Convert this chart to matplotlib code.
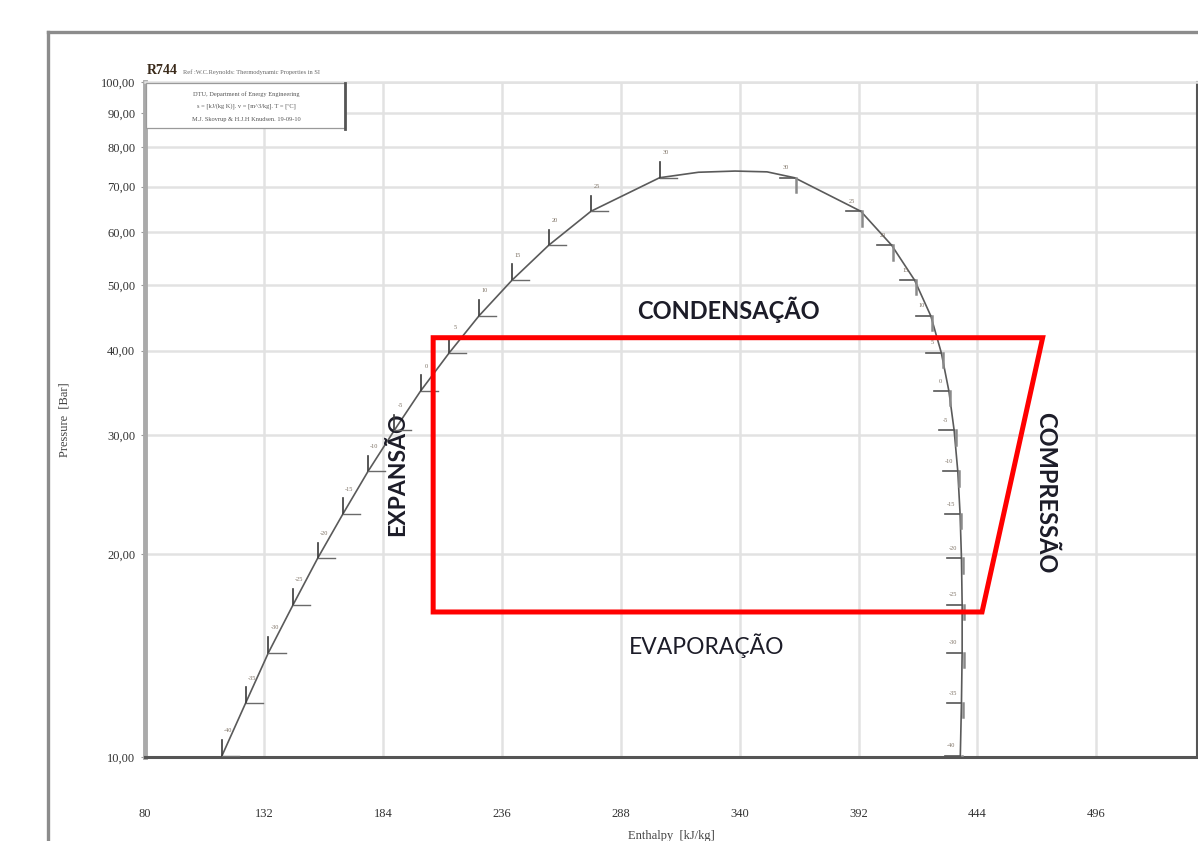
import matplotlib
matplotlib.use("Agg")
import matplotlib.pyplot as plt
from matplotlib.lines import Line2D
from matplotlib.patches import Rectangle

# ---- R744 (CO2) saturation data -------------------------------------------
sat_temp = [-40, -35, -30, -25, -20, -15, -10, -5, 0, 5, 10, 15, 20, 25, 30]
sat_pressure = [10.05, 12.02, 14.28, 16.82, 19.70, 22.90, 26.49, 30.47,
                34.85, 39.69, 45.02, 50.87, 57.29, 64.34, 72.14]
h_liquid = [113.7, 124.0, 134.0, 144.8, 155.5, 166.5, 177.5, 189.0,
            200.5, 213.0, 226.0, 240.5, 256.5, 275.0, 305.0]
h_vapor = [436.5, 437.0, 437.3, 437.3, 437.0, 436.4, 435.4, 433.8,
           431.5, 428.2, 423.6, 416.5, 406.5, 393.0, 364.0]

# crest of the dome around the critical point
crest_h = [322.0, 338.0, 352.0]
crest_p = [73.5, 73.8, 73.6]

# refrigeration cycle (enthalpy kJ/kg, pressure bar)
cycle_h = [206.0, 472.5, 446.0, 206.0]
cycle_p = [41.8, 41.8, 16.4, 16.4]

# axes ticks
x_ticks = [80, 132, 184, 236, 288, 340, 392, 444, 496]
y_ticks = [10, 20, 30, 40, 50, 60, 70, 80, 90, 100]
y_tick_labels = ["10,00", "20,00", "30,00", "40,00", "50,00",
                 "60,00", "70,00", "80,00", "90,00", "100,00"]

W, H = 1198, 841
fig = plt.figure(figsize=(W / 100, H / 100), dpi=100)
fig.patch.set_facecolor("white")

def fx(px):
    return px / W

def fy(py):
    return 1 - py / H

SERIF = "Liberation Serif"
LABEL_FONT = "Lato"

# outer frame
fig.add_artist(Line2D([fx(48), fx(W)], [fy(32), fy(32)], color="#8c8c8c", lw=2.4))
fig.add_artist(Line2D([fx(48), fx(48)], [fy(32), fy(H)], color="#8c8c8c", lw=2.4))

ax = fig.add_axes([fx(145), fy(757), fx(1197) - fx(145), (757 - 82) / H])
ax.set_yscale("log")
ax.set_xlim(80, 80 + (1197 - 145) / 2.287)
ax.set_ylim(10, 100)

ax.set_xticks(x_ticks)
ax.set_xticklabels([str(v) for v in x_ticks], fontfamily=SERIF, fontsize=9, color="#333")
ax.yaxis.set_major_locator(matplotlib.ticker.FixedLocator(y_ticks))
ax.yaxis.set_minor_locator(matplotlib.ticker.NullLocator())
ax.set_yticklabels(y_tick_labels, fontfamily=SERIF, fontsize=9, color="#333")
ax.tick_params(axis="x", length=0, pad=37)
ax.tick_params(axis="y", length=3, width=0.8, color="#999", pad=4)

ax.grid(True, color="#e2e2e2", lw=1.8, zorder=0)
ax.set_axisbelow(True)

ax.spines["left"].set_color("#aaaaaa")
ax.spines["left"].set_linewidth(3.5)
ax.spines["bottom"].set_color("#555555")
ax.spines["bottom"].set_linewidth(2.2)
ax.spines["right"].set_color("#555555")
ax.spines["right"].set_linewidth(1.5)
ax.spines["top"].set_color("#e2e2e2")
ax.spines["top"].set_linewidth(1.8)

ax.set_ylabel("Pressure  [Bar]", fontfamily=SERIF, fontsize=9, color="#444")
ax.yaxis.set_label_coords(-0.071, 0.5)
ax.set_xlabel("Enthalpy  [kJ/kg]", fontfamily=SERIF, fontsize=9, color="#444")
ax.xaxis.set_label_coords(0.5, -0.108)

# saturation dome
dome_h = h_liquid + crest_h + h_vapor[::-1]
dome_p = sat_pressure + crest_p + sat_pressure[::-1]
ax.plot(dome_h, dome_p, color="#5a5a5a", lw=1.2, zorder=3)

# isotherm stubs with temperature labels
for t, p, hl, hv in zip(sat_temp, sat_pressure, h_liquid, h_vapor):
    ax.plot([hl, hl], [p, p * 1.055], color="#3a3a3a", lw=1.2, zorder=4)
    ax.plot([hl, hl + 7.5], [p, p], color="#6a6a6a", lw=1.0, zorder=4)
    ax.annotate(str(t), (hl, p), xytext=(6, 25), textcoords="offset pixels",
                fontsize=4.5, fontfamily=SERIF, color="#7b6f62",
                ha="center", va="center", zorder=5)
    ax.plot([hv - 6.5, hv], [p, p], color="#555555", lw=1.2, zorder=4)
    ax.plot([hv + 0.6, hv + 0.6], [p, p / 1.05], color="#8a8a8a", lw=1.8, zorder=4)
    ax.annotate(str(t), (hv, p), xytext=(-9, 10), textcoords="offset pixels",
                fontsize=4.5, fontfamily=SERIF, color="#7b6f62",
                ha="center", va="center", zorder=5)

# cycle
ax.fill(cycle_h, cycle_p, fill=False, edgecolor="#ff0000", lw=3.6,
        joinstyle="miter", zorder=6)

ax.text(fx(728), fy(310), "CONDENSAÇÃO", transform=fig.transFigure,
        fontfamily=LABEL_FONT, fontweight="bold", fontsize=17, color="#1c1c28",
        ha="center", va="center")
ax.text(fx(707), fy(646), "EVAPORAÇÃO", transform=fig.transFigure,
        fontfamily=LABEL_FONT, fontsize=16.5, color="#1c1c28",
        ha="center", va="center")
ax.text(fx(398), fy(474), "EXPANSÃO", transform=fig.transFigure,
        fontfamily=LABEL_FONT, fontweight="bold", fontsize=16.5, color="#1c1c28",
        ha="center", va="center", rotation=90)
ax.text(fx(1046), fy(493), "COMPRESSÃO", transform=fig.transFigure,
        fontfamily=LABEL_FONT, fontweight="bold", fontsize=17, color="#1c1c28",
        ha="center", va="center", rotation=-90)

# header and info box
fig.text(fx(147), fy(71), "R744", fontfamily=SERIF, fontweight="bold",
         fontsize=10, color="#3a2a1a", va="center")
fig.text(fx(183), fy(72), "Ref :W.C.Reynolds: Thermodynamic Properties in SI",
         fontfamily=SERIF, fontsize=4.6, color="#666", va="center")

fig.add_artist(Rectangle((fx(146), fy(128)), fx(345) - fx(146), (128 - 83) / H,
                         transform=fig.transFigure, facecolor="white",
                         edgecolor="#9a9a9a", lw=0.9, zorder=5))
fig.add_artist(Line2D([fx(345), fx(345)], [fy(83), fy(129)], color="#555", lw=2.0, zorder=6))
info_lines = ["DTU, Department of Energy Engineering",
              "s = [kJ/(kg K)]. v = [m^3/kg]. T = [ºC]",
              "M.J. Skovrup & H.J.H Knudsen. 19-09-10"]
for i, line in enumerate(info_lines):
    fig.text(fx(246), fy(94 + 12.5 * i), line, fontfamily=SERIF, fontsize=4.6,
             color="#555", ha="center", va="center", zorder=7)

fig.savefig("out.png", dpi=100, facecolor="white")
